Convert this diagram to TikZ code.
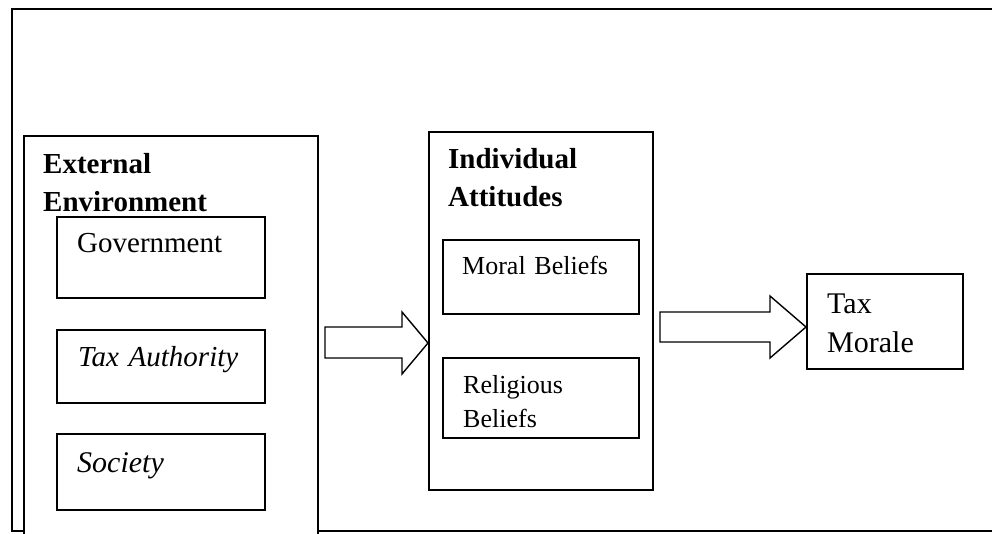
\documentclass[tikz,border=0pt]{standalone}
\usepackage{fontspec}
\setmainfont{Liberation Serif}
\usetikzlibrary{calc}
\begin{document}
\begin{tikzpicture}[x=1pt,y=-1pt,
  frame/.style={draw, line width=1.6pt, anchor=north west, inner sep=0pt},
  box/.style={draw, line width=1.6pt, fill=white, anchor=north west, inner sep=0pt},
  heading/.style={anchor=base west, inner sep=0pt, text width=200pt, align=left,
    font=\fontsize{29}{38.5}\selectfont\bfseries},
  itemtext/.style={anchor=base west, inner sep=0pt, text width=180pt, align=left,
    font=\fontsize{29}{38}\selectfont},
  smalltext/.style={anchor=base west, inner sep=0pt, text width=170pt, align=left,
    font=\fontsize{26}{34}\selectfont},
  blockarrow/.style={draw, line width=1.4pt, fill=white, line join=miter}]
\useasboundingbox (0,0) rectangle (992,533);
\clip (0,0) rectangle (992,533);
% outer frame
\node[frame, minimum width=1000pt, minimum height=522pt] (outer) at (11,8) {};
% external environment
\node[box, minimum width=294pt, minimum height=430pt] (ext) at (23,135) {};
\node[heading] (exttitle) at ($(ext.north west)+(20,38)$) {External\\Environment};
\node[box, minimum width=208pt, minimum height=81pt] (gov) at (56,216) {};
\node[itemtext] (govt) at ($(gov.north west)+(21,36)$) {Government};
\node[box, minimum width=208pt, minimum height=73pt] (auth) at (56,329) {};
\node[itemtext] (autht) at ($(auth.north west)+(22,37)$) {\itshape Tax Authority};
\node[box, minimum width=208pt, minimum height=76pt] (soc) at (56,433) {};
\node[itemtext, font=\fontsize{30}{38}\selectfont] (soct) at ($(soc.north west)+(21,39)$) {\itshape Society};
% individual attitudes
\node[box, minimum width=224pt, minimum height=358pt] (ind) at (428,131) {};
\node[heading] (indtitle) at ($(ind.north west)+(20,37)$) {Individual\\Attitudes};
\node[box, minimum width=196pt, minimum height=74pt] (moral) at (442,239) {};
\node[smalltext] (moralt) at ($(moral.north west)+(20,35)$) {Moral Beliefs};
\node[box, minimum width=196pt, minimum height=80pt] (rel) at (442,357) {};
\node[smalltext] (relt) at ($(rel.north west)+(21,36)$) {Religious\\Beliefs};
% tax morale
\node[box, minimum width=156pt, minimum height=95pt] (tm) at (806,273) {};
\node[itemtext, font=\fontsize{30}{39}\selectfont] (tmt) at ($(tm.north west)+(21,40)$) {Tax\\Morale};
% block arrows
\coordinate (a1tip) at (ind.west |- 0,343);
\draw[blockarrow] (a1tip) -- ++(-26,-31) -- ++(0,15) -- ++(-77,0) -- ++(0,31)
  -- ++(77,0) -- ++(0,16) -- cycle;
\coordinate (a2tip) at (tm.west |- 0,327);
\draw[blockarrow] (a2tip) -- ++(-36,-31) -- ++(0,16) -- ++(-110,0) -- ++(0,30)
  -- ++(110,0) -- ++(0,16) -- cycle;
\end{tikzpicture}
\end{document}
